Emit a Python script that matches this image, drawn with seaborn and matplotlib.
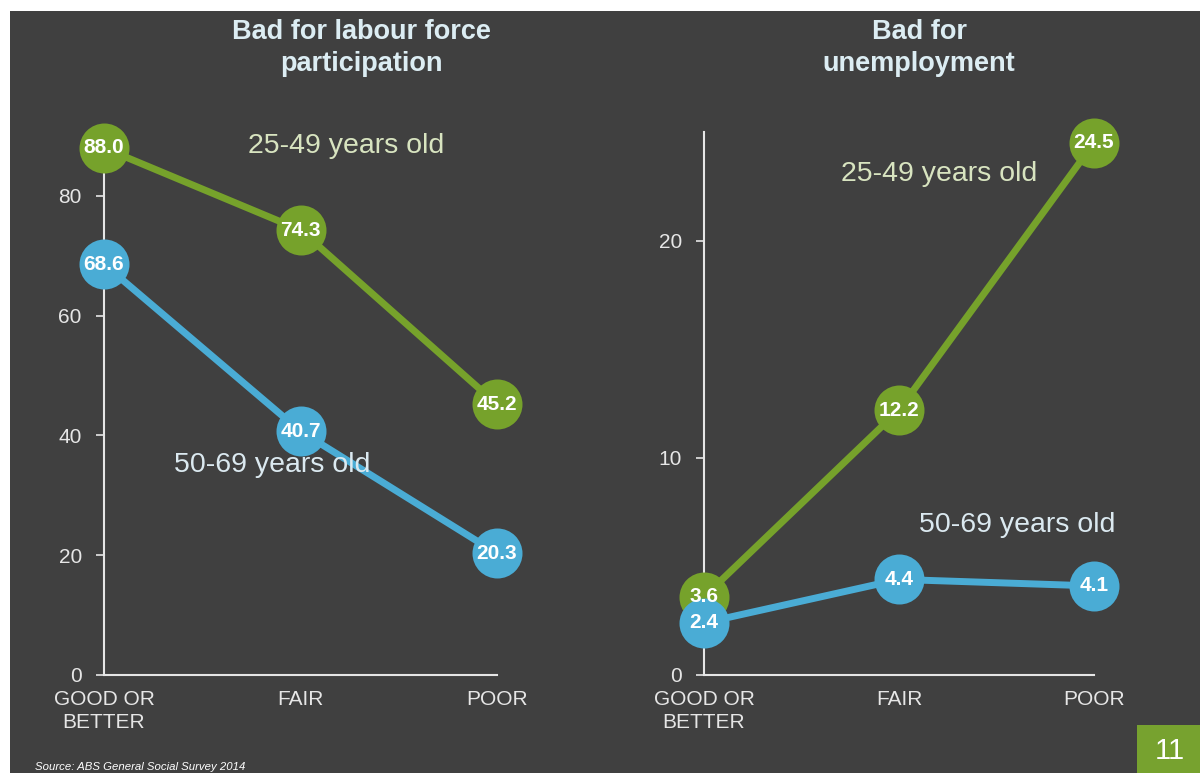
import matplotlib
matplotlib.use("Agg")
import matplotlib.pyplot as plt
import seaborn as sns
import pandas as pd
from matplotlib.patches import Rectangle

# ---- data ----
categories = ["GOOD OR\nBETTER", "FAIR", "POOR"]
groups = ["25-49 years old", "50-69 years old"]
participation_25_49 = [88.0, 74.3, 45.2]
participation_50_69 = [68.6, 40.7, 20.3]
unemployment_25_49 = [3.6, 12.2, 24.5]
unemployment_50_69 = [2.4, 4.4, 4.1]
left_yticks = [0, 20, 40, 60, 80]
right_yticks = [0, 10, 20]
titles = ["Bad for labour force\nparticipation", "Bad for\nunemployment"]
source = "Source: ABS General Social Survey 2014"
page = "11"

BG = "#404040"
GREEN = "#76a22b"
BLUE = "#4aacd5"
AXC = "#e6e6e6"

sns.set_theme(style="white")
plt.rcParams['font.family'] = ['Liberation Sans', 'DejaVu Sans']

fig = plt.figure(figsize=(12, 7.73), dpi=100, facecolor="white")
fig.patches.append(Rectangle((10/1200, 0), 1, (773-11)/773, transform=fig.transFigure,
                             facecolor=BG, edgecolor="none", zorder=-10))


def make_df(a, b):
    return pd.DataFrame({
        "category": categories * 2,
        "value": a + b,
        "group": [groups[0]] * 3 + [groups[1]] * 3,
    })


def draw(ax, df, ylim, yticks, label_pos, label_colors):
    ax.set_facecolor("none")
    sns.lineplot(data=df, x="category", y="value", hue="group",
                 palette={groups[0]: GREEN, groups[1]: BLUE},
                 marker="o", markersize=36, markeredgewidth=0, linewidth=5,
                 legend=False, ax=ax, sort=False)
    for ln in ax.lines:
        ln.set_clip_on(False)
    for i, row in df.iterrows():
        xi = categories.index(row["category"])
        ax.text(xi, row["value"], f"{row['value']:.1f}", ha="center", va="center",
                color="white", fontsize=15, fontweight="bold", zorder=20, clip_on=False)
    ax.set_xlim(0, 2)
    ax.set_ylim(*ylim)
    ax.set_yticks(yticks)
    ax.set_xlabel("")
    ax.set_ylabel("")
    for s in ["top", "right"]:
        ax.spines[s].set_visible(False)
    for s in ["left", "bottom"]:
        ax.spines[s].set_color(AXC)
        ax.spines[s].set_linewidth(1.5)
        ax.spines[s].set_zorder(0.5)
    ax.tick_params(axis="y", colors=AXC, labelsize=15, length=6, width=1.2, pad=10, left=True)
    ax.tick_params(axis="x", colors=AXC, labelsize=15, length=0, pad=11)
    for t in ax.get_xticklabels():
        t.set_linespacing(1.25)
    for (g, (x, y)), c in zip(label_pos.items(), label_colors):
        ax.text(x, y, g, ha="center", va="center", color=c, fontsize=20.5, zorder=15)


ax1 = fig.add_axes([104/1200, 98/773, 393/1200, (675-136)/773])
ax2 = fig.add_axes([704/1200, 98/773, 390/1200, (675-132)/773])

draw(ax1, make_df(participation_25_49, participation_50_69), (0, 90), left_yticks,
     {groups[0]: (1.23, 88.3), groups[1]: (0.855, 35.1)}, ["#d8e4c0", "#dbe9f0"])
draw(ax2, make_df(unemployment_25_49, unemployment_50_69), (0, 25), right_yticks,
     {groups[0]: (1.205, 23.07), groups[1]: (1.605, 6.9)}, ["#d8e4c0", "#dbe9f0"])

fig.text(361/1200, 1 - 48/773, titles[0], ha="center", va="center", color="#dcedf3",
         fontsize=19.5, fontweight="bold", linespacing=1.3)
fig.text(919/1200, 1 - 48/773, titles[1], ha="center", va="center", color="#dcedf3",
         fontsize=19.5, fontweight="bold", linespacing=1.3)

fig.text(35/1200, 1 - 767/773, source, ha="left", va="center", color="white",
         fontsize=8.2, style="italic")

fig.patches.append(Rectangle((1137/1200, 0), 63/1200, 48/773, transform=fig.transFigure,
                             facecolor="#77a22f", edgecolor="none", zorder=5))
fig.text(1170/1200, 1 - 751/773, page, ha="center", va="center", color="white",
         fontsize=21, zorder=6)

fig.savefig("out.png", dpi=100, facecolor=fig.get_facecolor())
